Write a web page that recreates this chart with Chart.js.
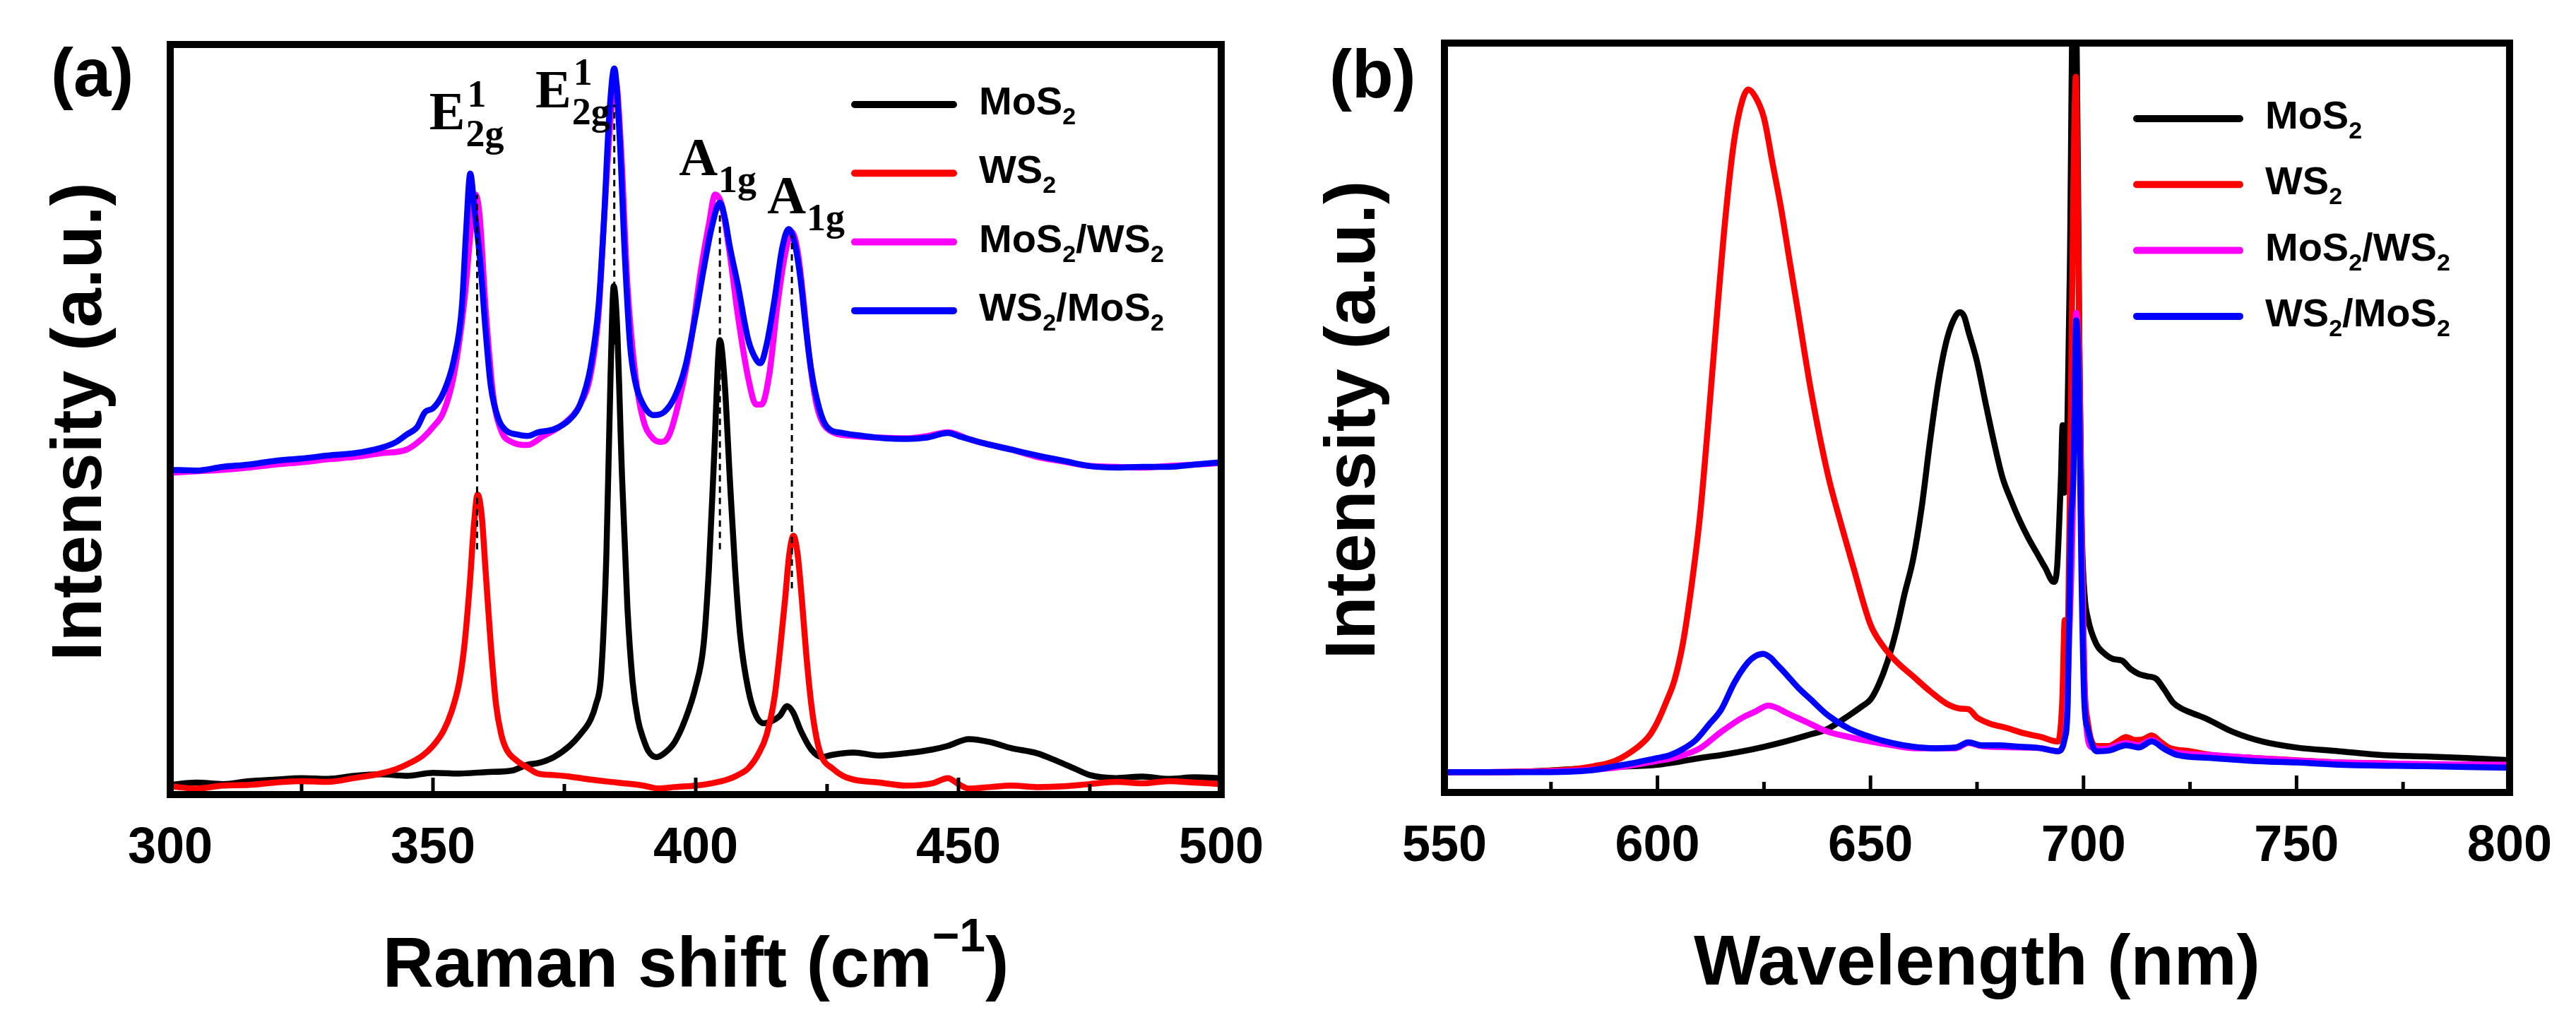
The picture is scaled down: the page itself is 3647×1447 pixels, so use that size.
<!DOCTYPE html>
<html><head><meta charset="utf-8">
<script src="https://cdn.jsdelivr.net/npm/chart.js@4.4.1/dist/chart.umd.min.js"></script>
<style>
html,body{margin:0;padding:0;background:#fff;}
#wrap{position:relative;width:3647px;height:1447px;overflow:hidden;background:#fff}
.panel{position:absolute;top:0;height:1447px}
#pa{left:0;width:1823px}
#pb{left:1823px;width:1824px}
</style></head><body>
<div id="wrap"><div class="panel" id="pa"><canvas id="ca"></canvas></div><div class="panel" id="pb"><canvas id="cb"></canvas></div></div>
<script>
// ---------- Panel (a): Raman ----------
const ramanLabels = ['MoS2', 'WS2', 'MoS2/WS2', 'WS2/MoS2'];
const ramanTicks = [300, 350, 400, 450, 500];

const ramanX_MoS2 = [300,305,310,315,320,325,330,335,340,345,350,355,360,365,368,370,373,376,378,380,381,382,383,383.8,384.4,385,386,387,388,389,390,391,392.5,394,396,398,400,401.5,402.5,403.5,404.6,405.5,406.5,407.5,408.5,410,411.5,413,414.5,416,417.4,418.5,420,422,424,426,430,435,440,445,448,452,456,460,465,468,472,475,480,485,490,495,500];
const ramanY_MoS2 = [0.013,0.016,0.014,0.018,0.02,0.022,0.021,0.025,0.027,0.025,0.029,0.028,0.03,0.032,0.04,0.042,0.05,0.065,0.08,0.1,0.12,0.16,0.32,0.56,0.678,0.63,0.42,0.25,0.15,0.1,0.075,0.058,0.05,0.055,0.07,0.1,0.144,0.2,0.3,0.45,0.606,0.55,0.42,0.3,0.21,0.14,0.105,0.095,0.098,0.105,0.118,0.11,0.085,0.06,0.05,0.053,0.056,0.052,0.055,0.06,0.065,0.074,0.07,0.062,0.055,0.047,0.035,0.026,0.022,0.024,0.021,0.023,0.022];

const ramanX_WS2 = [300,305,310,315,320,325,330,335,340,343,345,348,350,352,353.5,355,356,357,357.8,358.5,359.3,360,361,362,363,364,366,368,370,373,376,380,385,390,393,396,400,403,406,408,410,412,413.5,415,416,417,417.8,418.6,419.4,420.2,421,422,423,424,426,428,430,435,440,445,448,450,452,456,460,465,470,475,480,485,490,495,500];
const ramanY_WS2 = [0.011,0.008,0.012,0.013,0.016,0.018,0.017,0.022,0.028,0.034,0.04,0.052,0.065,0.085,0.11,0.15,0.2,0.28,0.36,0.4,0.37,0.3,0.2,0.12,0.08,0.06,0.045,0.036,0.028,0.026,0.024,0.02,0.016,0.012,0.008,0.01,0.012,0.015,0.02,0.026,0.035,0.055,0.08,0.13,0.19,0.26,0.32,0.345,0.32,0.26,0.19,0.12,0.075,0.05,0.035,0.025,0.02,0.016,0.012,0.015,0.022,0.014,0.008,0.01,0.012,0.01,0.011,0.014,0.017,0.015,0.018,0.016,0.014];

const ramanX_MW = [300,305,310,315,320,325,330,335,340,345,348,350,352,354,356,357.3,358.1,358.9,360,361.5,363,365,368,371,375,378,380,381.5,382.5,383.8,384.8,385.8,387,388.5,390,392,393.5,395,397,399,401,402.5,403.7,405,406.5,408,410,411.5,412.5,414,415.5,417,418.3,419.5,420.5,421.5,423,425,430,435,440,444,448,452,455,460,465,470,475,480,485,490,495,500];
const ramanY_MW = [0.429,0.431,0.433,0.436,0.44,0.443,0.447,0.45,0.455,0.46,0.475,0.49,0.51,0.56,0.66,0.76,0.8,0.77,0.65,0.53,0.485,0.47,0.466,0.478,0.495,0.52,0.56,0.64,0.76,0.9,0.95,0.86,0.68,0.56,0.5,0.474,0.47,0.48,0.53,0.6,0.7,0.76,0.8,0.785,0.72,0.64,0.555,0.52,0.52,0.56,0.65,0.72,0.75,0.72,0.66,0.59,0.52,0.488,0.478,0.476,0.475,0.478,0.483,0.474,0.468,0.46,0.45,0.444,0.438,0.437,0.436,0.438,0.44,0.442];

const ramanX_WM = [300,305,310,315,320,325,330,335,340,343,345,347,348.5,350,352,354,355.5,356.3,357.1,357.9,359,360,361,362.5,364,366,368,370,373,376,378,380,381.5,382.5,383.5,384.5,385.5,386.5,387.5,388.5,390,392,394,396,398,400,401.5,403,404.6,405.5,406.5,408,410,411.5,412.3,413.5,415,416.5,417.7,419,420,421,422,423.5,425,428,432,436,440,444,448,450,455,460,465,470,475,480,485,490,495,500];
const ramanY_WM = [0.433,0.432,0.437,0.44,0.445,0.448,0.452,0.455,0.462,0.47,0.48,0.49,0.51,0.515,0.536,0.58,0.65,0.75,0.828,0.78,0.71,0.62,0.545,0.5,0.485,0.48,0.478,0.483,0.487,0.5,0.52,0.57,0.65,0.76,0.9,0.968,0.88,0.72,0.6,0.55,0.52,0.506,0.51,0.53,0.57,0.64,0.7,0.755,0.789,0.77,0.73,0.68,0.606,0.58,0.575,0.6,0.66,0.73,0.754,0.73,0.684,0.62,0.565,0.515,0.49,0.482,0.478,0.475,0.474,0.476,0.482,0.478,0.468,0.46,0.452,0.445,0.438,0.436,0.437,0.437,0.44,0.443];

// dashed guide lines (x position, bottom, top)
const guideX = [358.4, 384.5, 404.6, 418.3];
const guideLow = [0.327, 0.6, 0.327, 0.275];
const guideHigh = [0.80, 0.92, 0.78, 0.745];

// peak annotations
const annMain = ['E', 'E', 'A', 'A'];
const annSup = ['1', '1', '', ''];
const annSub = ['2g', '2g', '1g', '1g'];
const annX = [349.3, 369.5, 396.8, 413.6];
const annY = [0.887, 0.916, 0.826, 0.775];

// ---------- Panel (b): PL ----------
const plLabels = ['MoS2', 'WS2', 'MoS2/WS2', 'WS2/MoS2'];
const plTicks = [550, 600, 650, 700, 750, 800];

const plX_MoS2 = [550,560,570,580,590,600,605,610,615,620,625,630,635,640,645,648,650,652,654,656,658,660,662,664,666,668,670,671,672,673,675,677,679,681,683,685,687,689,691,693,693.8,694.3,694.7,695.1,695.5,696.1,696.8,697.5,698.3,699,699.6,700.3,701,703,705,707,709,711,713,715,717,719,721,723,725,729,735,742,750,760,770,780,790,800];
const plY_MoS2 = [0.027,0.027,0.028,0.031,0.034,0.037,0.041,0.046,0.05,0.055,0.061,0.068,0.076,0.085,0.103,0.115,0.124,0.145,0.175,0.215,0.265,0.311,0.38,0.47,0.55,0.606,0.636,0.641,0.635,0.615,0.575,0.52,0.467,0.42,0.39,0.363,0.34,0.32,0.3,0.281,0.3,0.36,0.42,0.49,0.4,0.45,0.7,1.05,1.05,0.6,0.35,0.26,0.233,0.198,0.185,0.178,0.176,0.165,0.158,0.155,0.152,0.137,0.12,0.112,0.107,0.098,0.081,0.068,0.06,0.055,0.05,0.048,0.046,0.043];

const plX_WS2 = [550,560,570,580,585,590,595,598,600,602,604,606,608,610,612,614,616,618,620,621.3,623,625,627,629,631,633,636,640,643,646,650,653,656,660,664,668,671,673,675,678,682,686,690,694,695,695.6,696.2,696.8,697.6,698.2,698.8,699.5,700.2,701,703,706,708,710,712,714,716,718,720,725,730,740,750,760,770,780,790,800];
const plY_WS2 = [0.027,0.027,0.028,0.031,0.035,0.042,0.059,0.075,0.094,0.12,0.15,0.2,0.276,0.37,0.5,0.64,0.77,0.87,0.925,0.938,0.928,0.9,0.84,0.78,0.71,0.641,0.537,0.424,0.36,0.3,0.224,0.195,0.175,0.155,0.135,0.118,0.112,0.111,0.1,0.092,0.086,0.079,0.074,0.068,0.12,0.23,0.2,0.4,0.8,0.955,0.72,0.35,0.15,0.094,0.062,0.062,0.068,0.074,0.07,0.071,0.076,0.068,0.06,0.055,0.05,0.046,0.043,0.04,0.039,0.037,0.036,0.035];

const plX_MW = [550,575,590,600,605,610,615,620,623,626,628,630,635,640,645,650,655,660,670,673,676,685,690,694,695.8,696.6,697.4,698.3,699,699.7,700.5,702,705,710,713,716,720,730,740,760,780,800];
const plY_MW = [0.027,0.028,0.033,0.042,0.048,0.059,0.081,0.1,0.108,0.116,0.113,0.107,0.094,0.081,0.074,0.068,0.063,0.059,0.059,0.066,0.062,0.06,0.059,0.055,0.08,0.2,0.35,0.64,0.55,0.3,0.1,0.06,0.058,0.066,0.063,0.07,0.055,0.05,0.046,0.04,0.038,0.037];

const plX_WM = [550,570,585,590,595,600,603,606,609,612,615,618,621,623,624.8,626.5,628,630,633,636,640,645,650,655,660,665,670,673,676,680,685,690,694,695.5,696.3,697,697.6,698.3,698.9,699.5,700.2,701,703,706,710,713,716,719,722,730,740,750,760,780,800];
const plY_WM = [0.027,0.027,0.03,0.035,0.04,0.046,0.05,0.058,0.07,0.09,0.111,0.146,0.172,0.182,0.185,0.18,0.171,0.159,0.14,0.124,0.103,0.085,0.074,0.066,0.061,0.059,0.06,0.067,0.063,0.063,0.061,0.059,0.055,0.07,0.12,0.35,0.42,0.63,0.55,0.3,0.12,0.085,0.055,0.056,0.063,0.06,0.068,0.058,0.05,0.046,0.042,0.04,0.037,0.035,0.033];

const seriesColors = ['#000000', '#ff0000', '#ff00ff', '#0000ff'];

// ---------- helpers ----------
const SANS = '"Liberation Sans", Arial, sans-serif';
const SERIF = '"Liberation Serif", "Times New Roman", serif';
const pts = (xs, ys) => xs.map((x, i) => ({x, y: ys[i]}));

function richParts(label) {
  const parts = []; let cur = '', curSub = false;
  for (const ch of label) {
    const sub = /[0-9]/.test(ch);
    if (sub !== curSub && cur) { parts.push({t: cur, sub: curSub}); cur = ''; }
    curSub = sub; cur += ch;
  }
  if (cur) parts.push({t: cur, sub: curSub});
  return parts;
}
function measureRich(ctx, parts, o) {
  let w = 0;
  for (const p of parts) {
    const size = (p.sub || p.sup) ? o.small : o.size;
    ctx.font = `${o.weight} ${size}px ${o.family}`;
    w += ctx.measureText(p.t).width;
  }
  return w;
}
function drawRich(ctx, parts, x, y, o) {
  let cx = x;
  ctx.textAlign = 'left'; ctx.textBaseline = 'alphabetic';
  for (const p of parts) {
    const size = (p.sub || p.sup) ? o.small : o.size;
    ctx.font = `${o.weight} ${size}px ${o.family}`;
    const dy = p.sub ? o.subDy : (p.sup ? o.supDy : 0);
    ctx.fillText(p.t, cx, y + dy);
    cx += ctx.measureText(p.t).width;
  }
}

const panelDecor = {
  id: 'panelDecor',
  afterDatasetsDraw(chart, args, o) {
    const ctx = chart.ctx, ca = chart.chartArea, xs = chart.scales.x, ys = chart.scales.y;
    ctx.save();
    ctx.fillStyle = '#000'; ctx.strokeStyle = '#000';
    // inner ticks
    ctx.lineCap = 'butt'; ctx.lineWidth = o.tickWidth;
    xs.ticks.forEach(t => {
      if (t.value <= xs.min || t.value >= xs.max) return;
      const px = xs.getPixelForValue(t.value);
      const len = (t.value % o.majorStep === 0) ? o.majorLen : o.minorLen;
      ctx.beginPath(); ctx.moveTo(px, ca.bottom); ctx.lineTo(px, ca.bottom - len); ctx.stroke();
    });
    // frame
    ctx.lineWidth = o.frameWidth; ctx.lineJoin = 'miter';
    ctx.strokeRect(ca.left, ca.top, ca.right - ca.left, ca.bottom - ca.top);
    // peak annotations
    if (o.annotations) {
      const a = o.annotations;
      for (let i = 0; i < a.main.length; i++) {
        const px = xs.getPixelForValue(a.x[i]), py = ys.getPixelForValue(a.y[i]);
        ctx.textAlign = 'left'; ctx.textBaseline = 'alphabetic';
        ctx.font = `bold ${a.size}px ${SERIF}`;
        ctx.fillText(a.main[i], px, py);
        const w = ctx.measureText(a.main[i]).width;
        ctx.font = `bold ${a.small}px ${SERIF}`;
        if (a.sup[i]) ctx.fillText(a.sup[i], px + w + 3, py + a.supDy);
        ctx.fillText(a.sub[i], px + w + 1, py + a.subDy);
      }
    }
    // legend
    const L = o.legend;
    const entries = chart.data.datasets.filter(d => d.inLegend);
    entries.forEach((d, i) => {
      const y = L.y0 + i * L.dy;
      ctx.strokeStyle = d.borderColor; ctx.lineWidth = L.lineWidth; ctx.lineCap = 'round';
      ctx.beginPath(); ctx.moveTo(L.x0, y); ctx.lineTo(L.x1, y); ctx.stroke();
      ctx.fillStyle = '#000';
      drawRich(ctx, richParts(d.label), L.tx, y + L.baseOff,
        {family: SANS, weight: 'bold', size: L.size, small: L.small, subDy: L.subDy});
    });
    // panel letter
    ctx.fillStyle = '#000';
    ctx.textAlign = 'left'; ctx.textBaseline = 'alphabetic';
    ctx.font = `bold ${o.letter.size}px ${SANS}`;
    ctx.fillText(o.letter.text, o.letter.x, o.letter.y);
    // y title
    ctx.save();
    ctx.translate(o.yTitle.x, (ca.top + ca.bottom) / 2 + o.yTitle.dy);
    ctx.rotate(-Math.PI / 2);
    ctx.textAlign = 'center'; ctx.textBaseline = 'alphabetic';
    ctx.font = `bold ${o.yTitle.size}px ${SANS}`;
    ctx.fillText(o.yTitle.text, 0, 0);
    ctx.restore();
    // x title
    const xo = {family: SANS, weight: 'bold', size: o.xTitle.size, small: o.xTitle.small, supDy: o.xTitle.supDy, subDy: 0};
    const w = measureRich(ctx, o.xTitle.parts, xo);
    drawRich(ctx, o.xTitle.parts, (ca.left + ca.right) / 2 - w / 2, o.xTitle.y, xo);
    ctx.restore();
  }
};

function lineSet(label, data, color, order) {
  return {label, data, borderColor: color, backgroundColor: color, borderWidth: 8.5,
    pointRadius: 0, fill: false, tension: 0, cubicInterpolationMode: 'monotone', order, inLegend: true};
}
function guideSets(xsArr, lo, hi) {
  return xsArr.map((x, i) => ({label: 'guide', data: [{x, y: lo[i]}, {x, y: hi[i]}],
    borderColor: '#000', borderWidth: 3, borderDash: [9, 7], pointRadius: 0, order: 0, inLegend: false}));
}
function xAxis(min, max, tickVals, h) {
  return {type: 'linear', min, max,
    ticks: {stepSize: 25, autoSkip: false, maxRotation: 0, minRotation: 0, padding: 34, color: '#000',
      font: {family: SANS, size: 72, weight: 'bold'},
      callback: v => tickVals.includes(v) ? String(v) : ''},
    grid: {display: false, drawTicks: false}, border: {display: false},
    afterFit(s) { s.height = h; }};
}
const yAxis = {type: 'linear', min: 0, max: 1, display: false};

Chart.defaults.font.family = SANS;

new Chart(document.getElementById('ca'), {
  type: 'line',
  data: {datasets: [
    lineSet(ramanLabels[0], pts(ramanX_MoS2, ramanY_MoS2), seriesColors[0], 4),
    lineSet(ramanLabels[1], pts(ramanX_WS2, ramanY_WS2), seriesColors[1], 3),
    lineSet(ramanLabels[2], pts(ramanX_MW, ramanY_MW), seriesColors[2], 2),
    lineSet(ramanLabels[3], pts(ramanX_WM, ramanY_WM), seriesColors[3], 1),
    ...guideSets(guideX, guideLow, guideHigh)
  ]},
  options: {
    responsive: true, maintainAspectRatio: false, animation: false, events: [],
    layout: {padding: {left: 241, right: 65, top: 63, bottom: 0}, autoPadding: false},
    scales: {x: xAxis(300, 500, ramanTicks, 322), y: yAxis},
    plugins: {legend: {display: false}, tooltip: {enabled: false},
      panelDecor: {
        tickWidth: 5, majorStep: 50, majorLen: 24, minorLen: 15, frameWidth: 10,
        annotations: {main: annMain, sup: annSup, sub: annSub, x: annX, y: annY,
          size: 76, small: 54, supDy: -32, subDy: 24},
        legend: {x0: 1210, x1: 1350, tx: 1386, y0: 148, dy: 97.3, lineWidth: 10,
          baseOff: 14, size: 56, small: 34, subDy: 14},
        letter: {text: '(a)', x: 72, y: 136, size: 96},
        yTitle: {text: 'Intensity (a.u.)', x: 143, dy: 3, size: 100},
        xTitle: {parts: [{t: 'Raman shift (cm'}, {t: '\u22121', sup: true}, {t: ')'}],
          y: 1397, size: 100, small: 66, supDy: -50}
      }}
  },
  plugins: [panelDecor]
});

new Chart(document.getElementById('cb'), {
  type: 'line',
  data: {datasets: [
    lineSet(plLabels[0], pts(plX_MoS2, plY_MoS2), seriesColors[0], 4),
    lineSet(plLabels[1], pts(plX_WS2, plY_WS2), seriesColors[1], 3),
    lineSet(plLabels[2], pts(plX_MW, plY_MW), seriesColors[2], 2),
    lineSet(plLabels[3], pts(plX_WM, plY_WM), seriesColors[3], 1)
  ]},
  options: {
    responsive: true, maintainAspectRatio: false, animation: false, events: [],
    layout: {padding: {left: 222, right: 88, top: 61, bottom: 0}, autoPadding: false},
    scales: {x: xAxis(550, 800, plTicks, 325), y: yAxis},
    plugins: {legend: {display: false}, tooltip: {enabled: false},
      panelDecor: {
        tickWidth: 5, majorStep: 50, majorLen: 24, minorLen: 15, frameWidth: 10,
        legend: {x0: 1202, x1: 1348, tx: 1384, y0: 168, dy: 93.3, lineWidth: 10,
          baseOff: 14, size: 56, small: 34, subDy: 14},
        letter: {text: '(b)', x: 59, y: 138, size: 96},
        yTitle: {text: 'Intensity (a.u.)', x: 123, dy: 3, size: 100},
        xTitle: {parts: [{t: 'Wavelength (nm)'}], y: 1394, size: 100, small: 66, supDy: -50}
      }}
  },
  plugins: [panelDecor]
});
</script>
</body></html>
